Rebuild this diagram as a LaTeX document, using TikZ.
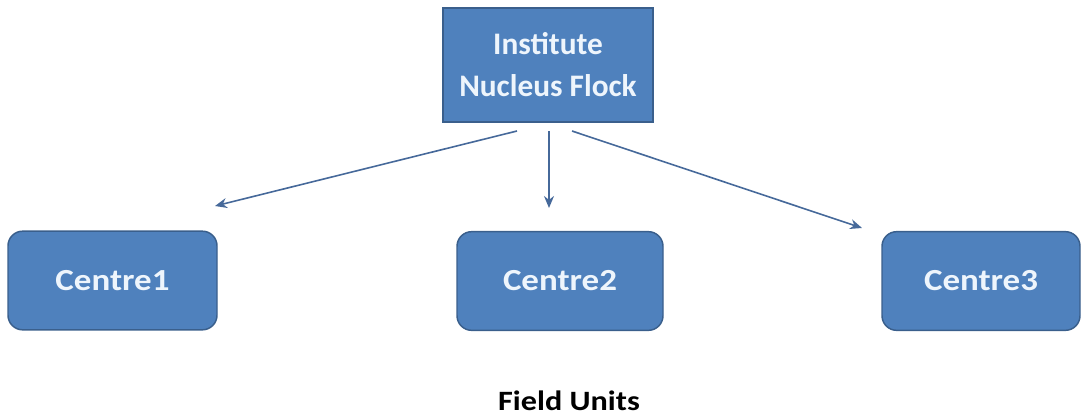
\documentclass[tikz,border=0pt]{standalone}
\usepackage{fontspec}
\setmainfont{Carlito}
\usepackage{graphicx}
\usetikzlibrary{arrows.meta}
\definecolor{boxfill}{HTML}{4F81BD}
\definecolor{boxline}{HTML}{3A5F8C}
\definecolor{boxtext}{HTML}{EEF5FC}
\definecolor{arrowcol}{HTML}{46699A}
\newcommand{\widetext}[2]{\scalebox{#1}[1]{#2}}
\begin{document}
\begin{tikzpicture}[x=0.75pt,y=-0.75pt,
  topbox/.style={draw=boxline, fill=boxfill, line width=1.1pt, inner sep=0pt,
    minimum width=157.5pt, minimum height=85.5pt, align=center, text=boxtext,
    font=\fontsize{23.5}{31.5}\selectfont\bfseries},
  centrebox/.style={draw=boxline, fill=boxfill, line width=1.1pt, inner sep=0pt,
    rounded corners=11pt, minimum height=74pt, text=boxtext,
    font=\fontsize{23}{27}\selectfont\bfseries},
  caption/.style={inner sep=0pt, text=black, font=\fontsize{21}{24}\selectfont\bfseries},
  link/.style={draw=arrowcol, line width=1.2pt, -{Stealth[length=9pt,width=7.5pt]}}
]
\useasboundingbox (0,0) rectangle (1081,418);

% head unit and the three centres
\node[topbox] (top) at (548,65) {Institute\\Nucleus Flock};
\node[centrebox, minimum width=156.75pt] (c1) at (112.5,280.5) {\widetext{1.14}{Centre1}};
\node[centrebox, minimum width=154.5pt] (c2) at (560,281) {\widetext{1.14}{Centre2}};
\node[centrebox, minimum width=148.5pt] (c3) at (981,281) {\widetext{1.14}{Centre3}};

% arrow ends, a little clear of the boxes
\coordinate (s1) at (517,131);
\coordinate (t1) at (215,206);
\coordinate (s2) at (549,131);
\coordinate (t2) at (549,208);
\coordinate (s3) at (572,131);
\coordinate (t3) at (862,228);

\draw[link] (s1) -- (t1);
\draw[link] (s2) -- (t2);
\draw[link] (s3) -- (t3);

\node[caption, anchor=base] (cap) at (569,410) {\widetext{1.15}{Field Units}};
\end{tikzpicture}
\end{document}
